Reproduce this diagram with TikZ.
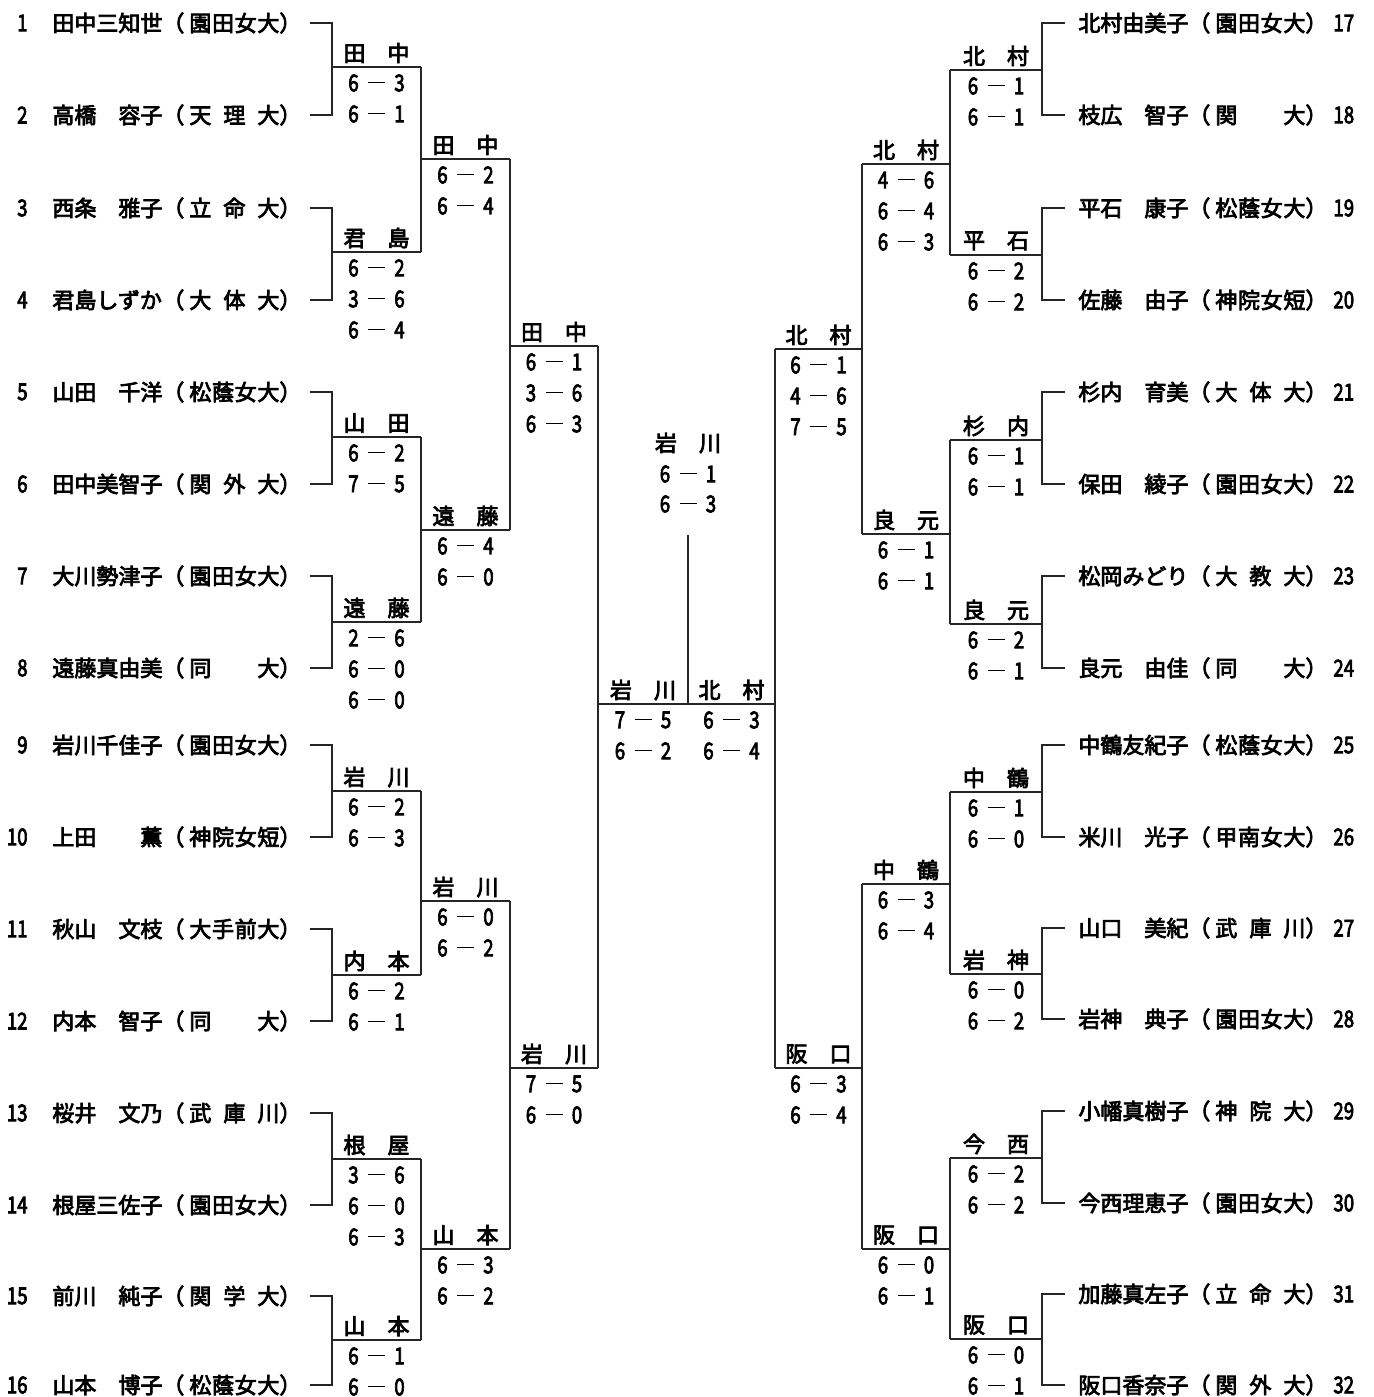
\documentclass[tikz,border=0pt]{standalone}
\usepackage{fontspec}
\usepackage{graphicx}
\newfontfamily\jp[FakeBold=3.5]{Noto Sans CJK JP}
\newcommand\nmbox[1]{\makebox[55pt][s]{#1}}
\newcommand\unbox[1]{\makebox[45pt][s]{#1}}
\newcommand\plname[2]{\nmbox{#1}（\hspace{2.5pt}\unbox{#2}）}
\newcommand\dg[1]{\scalebox{0.85}[1.05]{#1}}
\newcommand\scx[1]{\expandafter\scy#1\relax}
\def\scy#1-#2\relax{\makebox[9pt]{\dg{#1}}\makebox[14pt]{\raisebox{3.9pt}{\rule{8.5pt}{0.8pt}}}\makebox[9pt]{\dg{#2}}}
\newcommand\lpl[4]{%
  \node[txt,anchor=east] (n#1) at (28,#2) {\dg{#1}};
  \node[txt,anchor=west] (p#1) at (52,#2) {\plname{#3}{#4}};
  \coordinate (t#1) at (310,#2);}
\newcommand\rpl[4]{%
  \node[txt,anchor=west] (p#1) at (1078,#2) {\plname{#3}{#4}};
  \node[txt,anchor=west] (n#1) at (1333,#2) {\dg{#1}};
  \coordinate (t#1) at (1065,#2);}
% prefix, index, x1, x2, Y, label, scores
\newcommand\mt[7]{%
  \coordinate (#1a#2) at (#3,#5);
  \coordinate (#1b#2) at (#4,#5);
  \node[txt] (#1L#2) at ({(#3+#4)/2},{#5-14}) {#6};
  \foreach \s [count=\i] in {#7}{\node[txt] (#1s#2x\i) at ({(#3+#4)/2},{#5+16+31*(\i-1)}) {\scx\s};}
}
\begin{document}
\begin{tikzpicture}[x=0.5pt,y=-0.5pt,
  txt/.style={font=\jp\fontsize{11}{13}\selectfont,inner sep=0pt},
  br/.style={line width=0.8pt,black!85}]
\fill[white] (0,0) rectangle (1374,1397);
\useasboundingbox (0,0) rectangle (1374,1397);
% left players
\lpl{1}{23}{田中三知世}{園\hfill 田\hfill 女\hfill 大}
\lpl{2}{115}{高橋\hfill 容子}{天\hfill 理\hfill 大}
\lpl{3}{208}{西条\hfill 雅子}{立\hfill 命\hfill 大}
\lpl{4}{300}{君島しずか}{大\hfill 体\hfill 大}
\lpl{5}{392}{山田\hfill 千洋}{松\hfill 蔭\hfill 女\hfill 大}
\lpl{6}{484}{田中美智子}{関\hfill 外\hfill 大}
\lpl{7}{576}{大川勢津子}{園\hfill 田\hfill 女\hfill 大}
\lpl{8}{668}{遠藤真由美}{同\hfill 大}
\lpl{9}{745}{岩川千佳子}{園\hfill 田\hfill 女\hfill 大}
\lpl{10}{837}{上田\hfill 薫}{神\hfill 院\hfill 女\hfill 短}
\lpl{11}{929}{秋山\hfill 文枝}{大\hfill 手\hfill 前\hfill 大}
\lpl{12}{1021}{内本\hfill 智子}{同\hfill 大}
\lpl{13}{1113}{桜井\hfill 文乃}{武\hfill 庫\hfill 川}
\lpl{14}{1205}{根屋三佐子}{園\hfill 田\hfill 女\hfill 大}
\lpl{15}{1296}{前川\hfill 純子}{関\hfill 学\hfill 大}
\lpl{16}{1385}{山本\hfill 博子}{松\hfill 蔭\hfill 女\hfill 大}
% right players
\rpl{17}{23}{北村由美子}{園\hfill 田\hfill 女\hfill 大}
\rpl{18}{115}{枝広\hfill 智子}{関\hfill 大}
\rpl{19}{208}{平石\hfill 康子}{松\hfill 蔭\hfill 女\hfill 大}
\rpl{20}{300}{佐藤\hfill 由子}{神\hfill 院\hfill 女\hfill 短}
\rpl{21}{392}{杉内\hfill 育美}{大\hfill 体\hfill 大}
\rpl{22}{484}{保田\hfill 綾子}{園\hfill 田\hfill 女\hfill 大}
\rpl{23}{576}{松岡みどり}{大\hfill 教\hfill 大}
\rpl{24}{668}{良元\hfill 由佳}{同\hfill 大}
\rpl{25}{745}{中鶴友紀子}{松\hfill 蔭\hfill 女\hfill 大}
\rpl{26}{837}{米川\hfill 光子}{甲\hfill 南\hfill 女\hfill 大}
\rpl{27}{928}{山口\hfill 美紀}{武\hfill 庫\hfill 川}
\rpl{28}{1019}{岩神\hfill 典子}{園\hfill 田\hfill 女\hfill 大}
\rpl{29}{1111}{小幡真樹子}{神\hfill 院\hfill 大}
\rpl{30}{1203}{今西理恵子}{園\hfill 田\hfill 女\hfill 大}
\rpl{31}{1294}{加藤真左子}{立\hfill 命\hfill 大}
\rpl{32}{1385}{阪口香奈子}{関\hfill 外\hfill 大}
% left round 1
\mt{A}{1}{332}{421}{67}{田　中}{6-3,6-1}
\mt{A}{2}{332}{421}{252}{君　島}{6-2,3-6,6-4}
\mt{A}{3}{332}{421}{437}{山　田}{6-2,7-5}
\mt{A}{4}{332}{421}{622}{遠　藤}{2-6,6-0,6-0}
\mt{A}{5}{332}{421}{791}{岩　川}{6-2,6-3}
\mt{A}{6}{332}{421}{975}{内　本}{6-2,6-1}
\mt{A}{7}{332}{421}{1159}{根　屋}{3-6,6-0,6-3}
\mt{A}{8}{332}{421}{1340}{山　本}{6-1,6-0}
% left round 2
\mt{B}{1}{421}{510}{159}{田　中}{6-2,6-4}
\mt{B}{2}{421}{510}{530}{遠　藤}{6-4,6-0}
\mt{B}{3}{421}{510}{901}{岩　川}{6-0,6-2}
\mt{B}{4}{421}{510}{1249}{山　本}{6-3,6-2}
% left round 3
\mt{C}{1}{510}{598}{346}{田　中}{6-1,3-6,6-3}
\mt{C}{2}{510}{598}{1068}{岩　川}{7-5,6-0}
% final
\mt{F}{1}{598}{688}{704}{岩　川}{7-5,6-2}
\mt{F}{2}{688}{775}{704}{北　村}{6-3,6-4}
% right round 3
\mt{D}{1}{775}{862}{349}{北　村}{6-1,4-6,7-5}
\mt{D}{2}{775}{862}{1068}{阪　口}{6-3,6-4}
% right round 2
\mt{E}{1}{862}{950}{164}{北　村}{4-6,6-4,6-3}
\mt{E}{2}{862}{950}{534}{良　元}{6-1,6-1}
\mt{E}{3}{862}{950}{884}{中　鶴}{6-3,6-4}
\mt{E}{4}{862}{950}{1249}{阪　口}{6-0,6-1}
% right round 1
\mt{G}{1}{950}{1042}{70}{北　村}{6-1,6-1}
\mt{G}{2}{950}{1042}{255}{平　石}{6-2,6-2}
\mt{G}{3}{950}{1042}{440}{杉　内}{6-1,6-1}
\mt{G}{4}{950}{1042}{624}{良　元}{6-2,6-1}
\mt{G}{5}{950}{1042}{792}{中　鶴}{6-1,6-0}
\mt{G}{6}{950}{1042}{974}{岩　神}{6-0,6-2}
\mt{G}{7}{950}{1042}{1158}{今　西}{6-2,6-2}
\mt{G}{8}{950}{1042}{1339}{阪　口}{6-0,6-1}
% champion
\node[txt] (champL) at (688,443) {岩　川};
\node[txt] (champs1) at (688,474) {\scx{6-1}};
\node[txt] (champs2) at (688,504) {\scx{6-3}};
\coordinate (champ) at (688,535);
\draw[br] (champ) -- (Fb1);
% bracket lines
\foreach \i in {1,...,8}{
  \pgfmathtruncatemacro\p{2*\i-1}\pgfmathtruncatemacro\q{2*\i}
  \draw[br] (t\p) -- (t\p -| Aa\i) -- (t\q -| Aa\i) -- (t\q);
  \draw[br] (Aa\i) -- (Ab\i);
  \pgfmathtruncatemacro\pr{2*\i+15}\pgfmathtruncatemacro\qr{2*\i+16}
  \draw[br] (t\pr) -- (t\pr -| Gb\i) -- (t\qr -| Gb\i) -- (t\qr);
  \draw[br] (Ga\i) -- (Gb\i);
}
\foreach \i in {1,...,4}{
  \pgfmathtruncatemacro\p{2*\i-1}\pgfmathtruncatemacro\q{2*\i}
  \draw[br] (Ab\p) -- (Ab\q);
  \draw[br] (Ba\i) -- (Bb\i);
  \draw[br] (Ga\p) -- (Ga\q);
  \draw[br] (Ea\i) -- (Eb\i);
}
\foreach \i in {1,2}{
  \pgfmathtruncatemacro\p{2*\i-1}\pgfmathtruncatemacro\q{2*\i}
  \draw[br] (Bb\p) -- (Bb\q);
  \draw[br] (Ca\i) -- (Cb\i);
  \draw[br] (Ea\p) -- (Ea\q);
  \draw[br] (Da\i) -- (Db\i);
}
\draw[br] (Cb1) -- (Cb2);
\draw[br] (Da1) -- (Da2);
\draw[br] (Fa1) -- (Fb2);
\end{tikzpicture}
\end{document}
